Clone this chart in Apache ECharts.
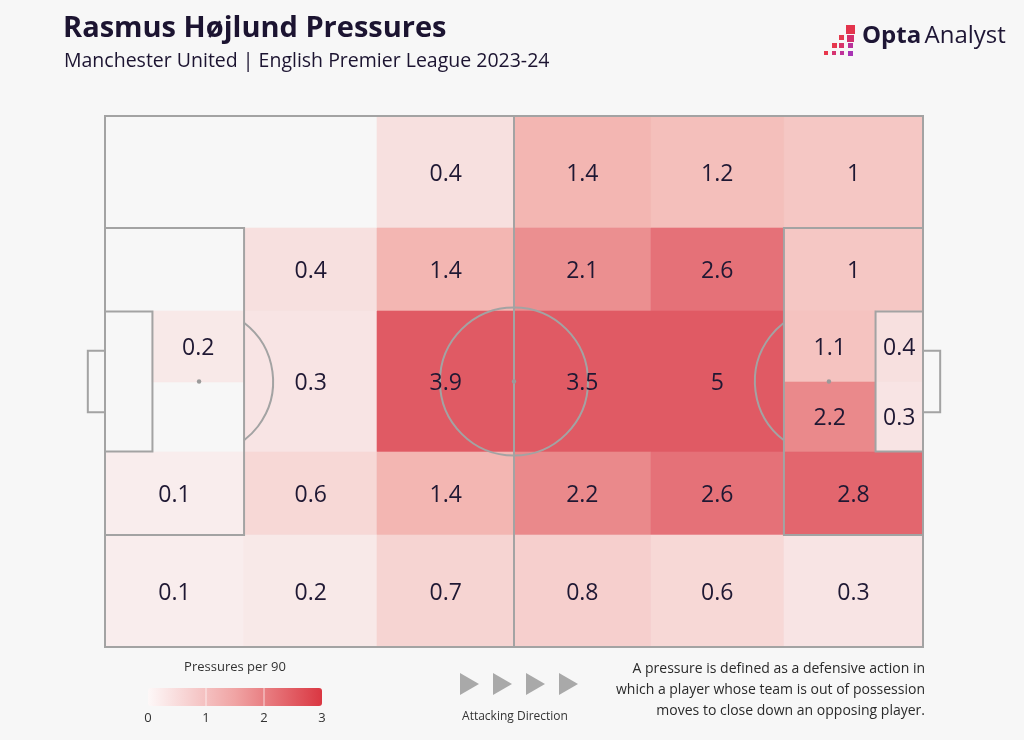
<!DOCTYPE html>
<html><head><meta charset="utf-8">
<script src="https://cdn.jsdelivr.net/npm/echarts@6/dist/echarts.min.js"></script>
<style>html,body{margin:0;padding:0;background:#f7f7f7;}#c{width:1024px;height:740px;}</style>
</head><body><div id="c"></div>
<script>
// Zone bounds in Opta pitch coordinates (0-100 both ways, y measured from top)
const zoneX0 = [33.3,50,66.7,83, 17,33.3,50,66.7,83, 5.8,17,33.3,50,66.7,83,83,94.2,94.2, 0,17,33.3,50,66.7,83, 0,17,33.3,50,66.7,83];
const zoneX1 = [50,66.7,83,100, 33.3,50,66.7,83,100, 17,33.3,50,66.7,83,94.2,94.2,100,100, 17,33.3,50,66.7,83,100, 17,33.3,50,66.7,83,100];
const zoneY0 = [0,0,0,0, 21.1,21.1,21.1,21.1,21.1, 36.8,36.8,36.8,36.8,36.8,36.8,50,36.8,50, 63.2,63.2,63.2,63.2,63.2,63.2, 78.9,78.9,78.9,78.9,78.9,78.9];
const zoneY1 = [21.1,21.1,21.1,21.1, 36.8,36.8,36.8,36.8,36.8, 50,63.2,63.2,63.2,63.2,50,63.2,50,63.2, 78.9,78.9,78.9,78.9,78.9,78.9, 100,100,100,100,100,100];
const pressures = [0.4,1.4,1.2,1, 0.4,1.4,2.1,2.6,1, 0.2,0.3,3.9,3.5,5,1.1,2.2,0.4,0.3, 0.1,0.6,1.4,2.2,2.6,2.8, 0.1,0.2,0.7,0.8,0.6,0.3];
const legendTicks = ['0','1','2','3'];
const scaleMax = 3;

const title = 'Rasmus Højlund Pressures';
const subtitle = 'Manchester United | English Premier League 2023-24';
const note = ['A pressure is defined as a defensive action in','which a player whose team is out of possession','moves to close down an opposing player.'];

const zoneData = pressures.map((v,i)=>[zoneX0[i],zoneX1[i],zoneY0[i],zoneY1[i],v,Math.min(v,scaleMax)]);

const LINE = '#a3a3a3';
const FONT = '"Open Sans", Roboto, sans-serif';

function pitchRender(params, api){
  const c = p => api.coord(p);
  const ch = [];
  function rect(x0,y0,x1,y1){
    const a=c([x0,y0]), b=c([x1,y1]);
    ch.push({type:'rect',shape:{x:a[0],y:a[1],width:b[0]-a[0],height:b[1]-a[1]},style:{fill:'none',stroke:LINE,lineWidth:2}});
  }
  rect(0,0,100,100);
  rect(0,21.1,17,78.9); rect(83,21.1,100,78.9);
  rect(0,36.8,5.8,63.2); rect(94.2,36.8,100,63.2);
  rect(-2.1,44.2,0,55.8); rect(100,44.2,102.1,55.8);
  const h0=c([50,0]), h1=c([50,100]);
  ch.push({type:'line',shape:{x1:h0[0],y1:h0[1],x2:h1[0],y2:h1[1]},style:{stroke:LINE,lineWidth:2}});
  const cc=c([50,50]);
  const r = api.size([9.05,0])[0];
  ch.push({type:'circle',shape:{cx:cc[0],cy:cc[1],r:r},style:{fill:'none',stroke:LINE,lineWidth:2}});
  const ls=c([11.5,50]), rs=c([88.5,50]), pe=c([17,50]);
  const th=Math.acos((pe[0]-ls[0])/r);
  ch.push({type:'arc',shape:{cx:ls[0],cy:ls[1],r:r,startAngle:-th,endAngle:th,clockwise:true},style:{fill:'none',stroke:LINE,lineWidth:2}});
  ch.push({type:'arc',shape:{cx:rs[0],cy:rs[1],r:r,startAngle:Math.PI-th,endAngle:Math.PI+th,clockwise:true},style:{fill:'none',stroke:LINE,lineWidth:2}});
  [ls,rs,cc].forEach(p=>ch.push({type:'circle',shape:{cx:p[0],cy:p[1],r:2.2},style:{fill:'#9a9a9a'}}));
  return {type:'group',children:ch};
}

const logoSquares = [
  [846,25,9,'#e3344c'],
  [839,35,5,'#e33a4e'],[847,35,7,'#d3306c'],
  [832,43,5,'#e6384d'],[839,43,5,'#d8346a'],[848,43,5,'#b9329a'],
  [824,51,4,'#e8364c'],[832,51,4,'#d63370'],[840,51,4,'#c0339a'],[848,51,5,'#a834b4']
];

const graphics = [
  {type:'text',left:63,top:14,style:{text:title,font:'bold 29px '+FONT,fill:'#1c1431'}},
  {type:'text',left:64,top:51,style:{text:subtitle,font:'19.5px '+FONT,fill:'#1c1431'}},
  {type:'text',left:862,top:24,style:{text:'{a|Opta} {b|Analyst}',rich:{a:{font:'bold 24px '+FONT,fill:'#1e1635'},b:{font:'24px '+FONT,fill:'#1e1635'}}}},
  {type:'text',x:235,y:667,style:{text:'Pressures per 90',font:'13px '+FONT,fill:'#333',align:'center',verticalAlign:'middle'}},
  {type:'rect',shape:{x:148,y:688,width:174,height:18,r:3},style:{fill:new echarts.graphic.LinearGradient(0,0,1,0,[{offset:0,color:'#fdf8f8'},{offset:0.5,color:'#f0a4a4'},{offset:1,color:'#da3742'}])}},
  {type:'text',x:515,y:717,style:{text:'Attacking Direction',font:'12px '+FONT,fill:'#333',align:'center',verticalAlign:'middle'}}
];
[1,2].forEach(i=>graphics.push({type:'line',shape:{x1:148+174*i/3,y1:688,x2:148+174*i/3,y2:706},style:{stroke:'rgba(255,255,255,0.7)',lineWidth:1}}));
legendTicks.forEach((t,i)=>graphics.push({type:'text',x:148+174*i/3,y:718,style:{text:t,font:'13px '+FONT,fill:'#333',align:'center',verticalAlign:'middle'}}));
for(let i=0;i<4;i++){const x=460+i*33;graphics.push({type:'polygon',shape:{points:[[x,673],[x+19,684],[x,695]]},style:{fill:'#a9a9a9'}});}
note.forEach((t,i)=>graphics.push({type:'text',x:925,y:669+i*21,style:{text:t,font:'14px '+FONT,fill:'#2a2a2a',align:'right',verticalAlign:'middle'}}));
logoSquares.forEach(s=>graphics.push({type:'rect',shape:{x:s[0],y:s[1],width:s[2],height:s[2]},style:{fill:s[3]}}));

const chart = echarts.init(document.getElementById('c'),null,{renderer:'canvas'});
chart.setOption({
  backgroundColor:'#f7f7f7',
  animation:false,
  grid:{left:105,top:116,width:818,height:531},
  xAxis:{type:'value',min:0,max:100,show:false},
  yAxis:{type:'value',min:0,max:100,inverse:true,show:false},
  visualMap:{show:false,type:'continuous',min:0,max:scaleMax,dimension:5,seriesIndex:0,inRange:{color:['#f9f1f1','#f3b2ae','#e05a64']}},
  series:[
    {type:'custom',z:1,data:zoneData,encode:{x:[0,1],y:[2,3]},renderItem:function(params,api){
      const a=api.coord([api.value(0),api.value(2)]), b=api.coord([api.value(1),api.value(3)]);
      const x0=Math.round(a[0]), y0=Math.round(a[1]), x1=Math.round(b[0]), y1=Math.round(b[1]);
      return {type:'rect',shape:{x:x0,y:y0,width:x1-x0,height:y1-y0},style:{fill:api.visual('color'),stroke:api.visual('color'),lineWidth:0.6}};
    }},
    {type:'custom',z:2,data:[[50,50]],renderItem:pitchRender,silent:true},
    {type:'custom',z:3,data:zoneData,encode:{x:[0,1],y:[2,3]},renderItem:function(params,api){
      const p=api.coord([(api.value(0)+api.value(1))/2,(api.value(2)+api.value(3))/2]);
      return {type:'text',style:{text:String(api.value(4)),x:p[0],y:p[1]+2,align:'center',verticalAlign:'middle',font:'23px '+FONT,fill:'#1f1833'}};
    }}
  ],
  graphic:graphics
});
</script></body></html>
